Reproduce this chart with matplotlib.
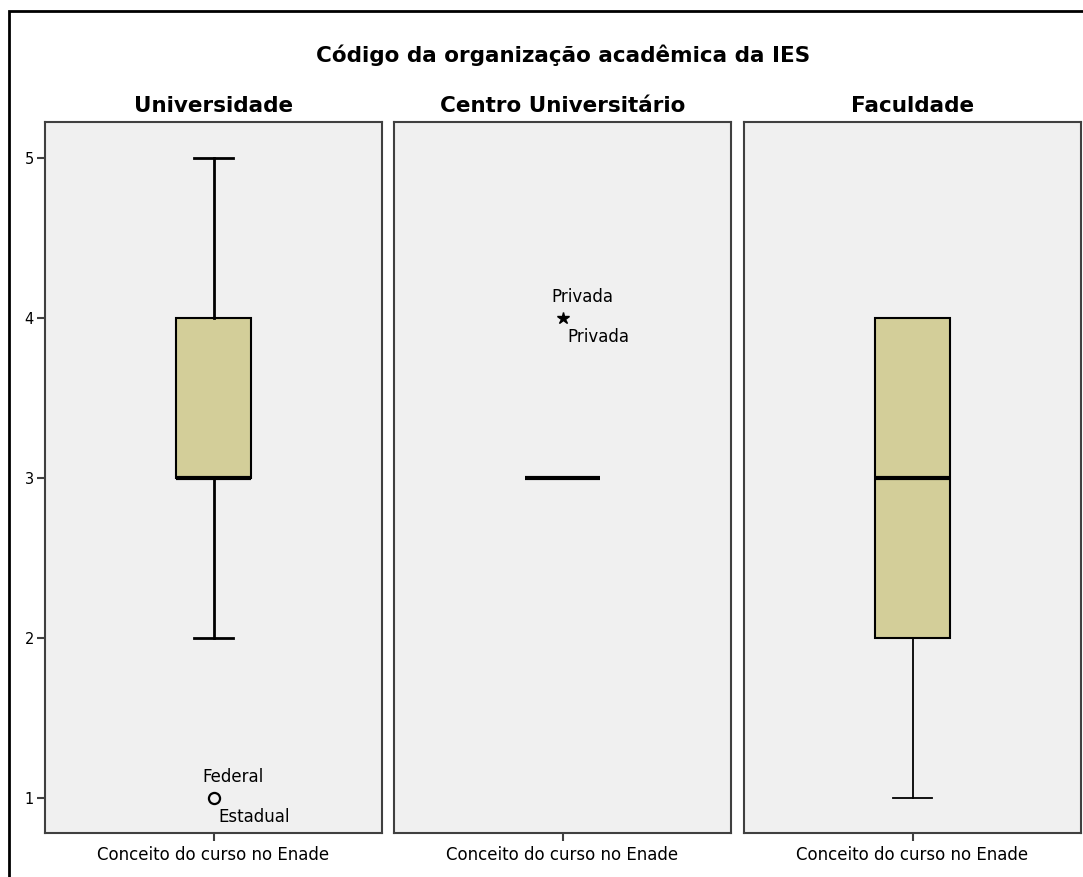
import matplotlib
matplotlib.use("Agg")
import matplotlib.pyplot as plt
from matplotlib.patches import Rectangle

# box plot summaries per organization type (Conceito do curso no Enade)
groups = ["Universidade", "Centro Universitário", "Faculdade"]
q1 = [3, 3, 2]
med = [3, 3, 3]
q3 = [4, 3, 4]
whis_lo = [2, 3, 1]
whis_hi = [5, 3, 4]
outliers = [[1], [4], []]
outlier_kind = ["o", "*", "o"]
outlier_top = [["Federal"], ["Privada"], []]
outlier_bottom = [["Estadual"], ["Privada"], []]
y_ticks = [1, 2, 3, 4, 5]
x_label = "Conceito do curso no Enade"

W, H = 1083, 877
plt.rcParams['font.family'] = ['DejaVu Sans']
fig = plt.figure(figsize=(W / 100, H / 100), dpi=100)

# outer frame (only left and top visible in the original)
fig.patches.append(Rectangle((9 / W, -0.1), 1.2, 1 - 11 / H + 0.1,
                             transform=fig.transFigure, fill=False,
                             edgecolor='black', linewidth=2))

fig.text(563 / W, 1 - 55 / H, "Código da organização acadêmica da IES",
         ha='center', va='center', fontsize=15.5, fontweight='bold')

lefts = [45, 394, 744]
pw = 337
top, bottom = 122, 833
box_fc = '#D3CE99'
lab_fs = 12

for i, name in enumerate(groups):
    ax = fig.add_axes([lefts[i] / W, 1 - bottom / H, pw / W, (bottom - top) / H])
    ax.set_facecolor('#F0F0F0')
    for s in ax.spines.values():
        s.set_edgecolor('#404040')
        s.set_linewidth(1.5)
    stats = [dict(med=med[i], q1=q1[i], q3=q3[i], whislo=whis_lo[i],
                  whishi=whis_hi[i], fliers=[])]
    thick = 2.0 if i == 0 else 1.3
    ax.bxp(stats, positions=[0], widths=0.45, patch_artist=True,
           boxprops=dict(facecolor=box_fc, edgecolor='black', linewidth=1.5),
           medianprops=dict(color='black', linewidth=3),
           whiskerprops=dict(color='black', linewidth=thick),
           capprops=dict(color='black', linewidth=thick),
           capwidths=0.23)
    for j, v in enumerate(outliers[i]):
        if outlier_kind[i] == "o":
            ax.plot([0], [v], marker='o', ms=8, mfc='none', mec='black', mew=1.6)
        else:
            ax.plot([0], [v], marker='*', ms=9, color='black')
        ax.annotate(outlier_top[i][j], (0, v), xytext=(-8, 15),
                    textcoords='offset points', fontsize=lab_fs, va='center')
        ax.annotate(outlier_bottom[i][j], (0, v), xytext=(3.6, -13.5),
                    textcoords='offset points', fontsize=lab_fs, va='center')
    ax.set_xlim(-1, 1)
    ax.set_ylim(0.78, 5.225)
    ax.set_xticks([0])
    ax.set_xticklabels([x_label], fontsize=lab_fs)
    ax.tick_params(axis='x', length=6, width=1.5, color='#404040', pad=3)
    if i == 0:
        ax.set_yticks(y_ticks)
        ax.tick_params(axis='y', length=6, width=1.5, color='#404040',
                       labelsize=10.5, pad=2)
    else:
        ax.set_yticks([])
    ax.set_title(name, fontsize=15.5, fontweight='bold', pad=7)

fig.savefig("out.png", dpi=100, facecolor='white')
